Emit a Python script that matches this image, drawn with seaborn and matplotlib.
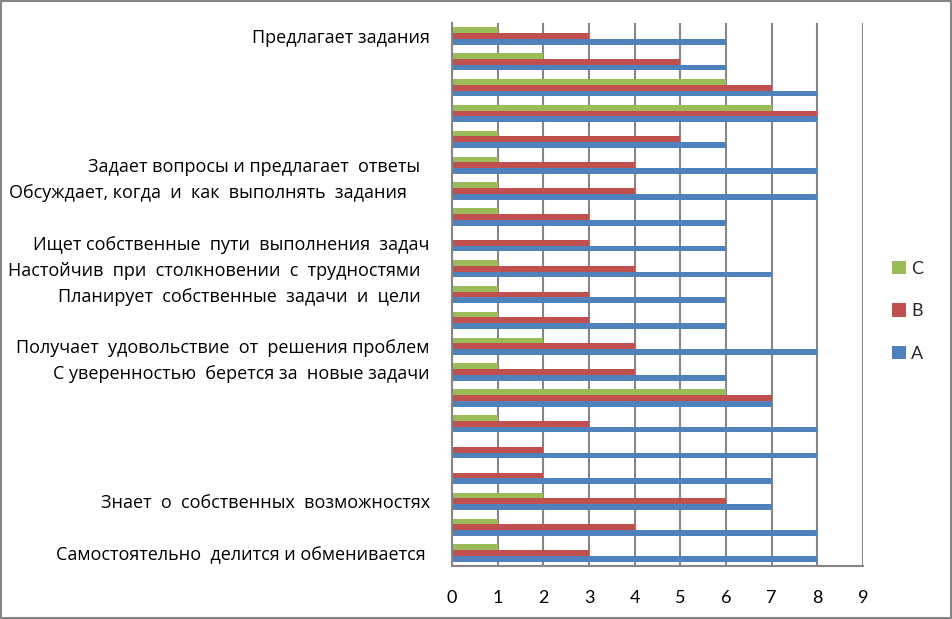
import numpy as np
import pandas as pd
import matplotlib
matplotlib.use("Agg")
import matplotlib.pyplot as plt
import seaborn as sns
from matplotlib.patches import Rectangle

# Категории сверху вниз (пустые подписи - как в исходной диаграмме)
labels = [
    "Предлагает задания",
    "",
    "",
    "",
    "",
    "Задает вопросы и предлагает  ответы  ",
    "Обсуждает, когда  и  как  выполнять  задания     ",
    "",
    "Ищет собственные  пути  выполнения  задач",
    "Настойчив  при  столкновении  с  трудностями  ",
    "Планирует  собственные  задачи  и  цели  ",
    "",
    "Получает  удовольствие  от  решения проблем",
    "С уверенностью  берется за  новые задачи",
    "",
    "",
    "",
    "",
    "Знает  о  собственных  возможностях",
    "",
    "Самостоятельно  делится и обменивается ",
]

series_a = [6, 6, 8, 8, 6, 8, 8, 6, 6, 7, 6, 6, 8, 6, 7, 8, 8, 7, 7, 8, 8]
series_b = [3, 5, 7, 8, 5, 4, 4, 3, 3, 4, 3, 3, 4, 4, 7, 3, 2, 2, 6, 4, 3]
series_c = [1, 2, 6, 7, 1, 1, 1, 1, 0, 1, 1, 1, 2, 1, 6, 1, 0, 0, 2, 1, 1]

series_names = ["C", "B", "A"]
colors = {"A": "#4F81BD", "B": "#C0504D", "C": "#9BBB59"}
GREY = "#868686"

n = len(labels)
rows = [f"r{i:02d}" for i in range(n)]
df = pd.DataFrame({"row": rows, "A": series_a, "B": series_b, "C": series_c})
df_long = df.melt(id_vars="row", var_name="series", value_name="value")

sns.set_style("white")
plt.rcParams["font.family"] = ["Lato", "DejaVu Sans"]

fig = plt.figure(figsize=(9.53, 6.19), dpi=100)
ax = fig.add_axes([0.4743, 0.0856, 0.4313, 0.8772])

sns.barplot(
    data=df_long, x="value", y="row", hue="series",
    order=rows, hue_order=series_names, palette=colors,
    width=0.67, saturation=1, linewidth=0, orient="h", ax=ax,
)

ax.set_xlim(0, 9)
ax.set_ylim(n - 0.5, -0.5)
ax.set_xlabel("")
ax.set_ylabel("")

# Деления на границах категорий, подписи - по центрам
ax.set_yticks(np.arange(-0.5, n, 1))
ax.set_yticklabels([])
ax.set_yticks(np.arange(n), labels, minor=True)
ax.tick_params(axis="y", which="major", length=5, width=1.5, color=GREY, direction="out")
ax.tick_params(axis="y", which="minor", length=0, pad=16, labelsize=13, labelcolor="black")
for t in ax.get_yticklabels(minor=True):
    t.set_fontfamily(["Open Sans", "DejaVu Sans"])

ax.set_xticks(range(10))
ax.tick_params(axis="x", length=5, width=1.5, color=GREY, direction="out", pad=12,
               labelsize=13, labelcolor="black")

ax.grid(axis="x", color=GREY, linewidth=1.5)
ax.set_axisbelow(True)
for side in ["top", "right"]:
    ax.spines[side].set_visible(False)
for side in ["left", "bottom"]:
    ax.spines[side].set_color(GREY)
    ax.spines[side].set_linewidth(1.5)

ax.legend(
    loc="center left", bbox_to_anchor=(0.919, 0.497), bbox_transform=fig.transFigure,
    frameon=False, fontsize=13, handlelength=0.75, handleheight=0.75,
    handletextpad=0.3, labelspacing=1.45,
)

fig.patches.append(Rectangle((0.001, 0.002), 0.997, 0.996, transform=fig.transFigure,
                             fill=False, edgecolor=GREY, linewidth=1.5))

fig.savefig("out.png", dpi=100, facecolor="white")
plt.close(fig)
